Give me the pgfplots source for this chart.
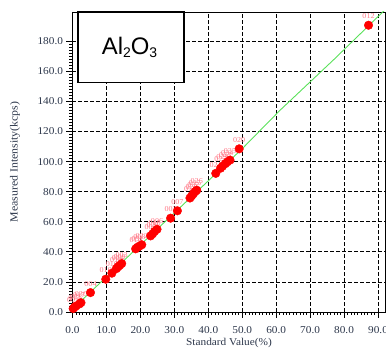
\documentclass[border=0pt]{standalone}
\usepackage{fontspec}
\setmainfont{Liberation Serif}[FakeStretch=1.08]
\newfontfamily\boxfont{Liberation Sans}
\usepackage{pgfplots}
\pgfplotsset{compat=1.18}
\usepackage{pgfplotstable}
\definecolor{tickc}{RGB}{45,55,75}
\definecolor{lblpink}{RGB}{255,120,135}
\definecolor{lgreen}{RGB}{90,225,90}

\pgfplotstableread{
x y lab
0.2 2.3 001
0.6 3.3 013
1.0 3.9 025
2.0 5.3 017
2.5 6.2 030
5.3 12.9 004
9.8 21.8 010
11.6 25.8 016
12.9 28.8 019
13.4 30.0 024
13.9 31.0 009
14.5 32.2 003
18.6 42.0 014
19.1 43.0 031
19.7 43.8 008
20.4 44.7 022
23.0 50.6 005
23.6 52.0 028
24.2 53.6 018
24.9 55.0 006
28.9 62.4 002
30.9 67.3 007
34.6 75.8 011
35.1 77.2 023
35.6 78.6 032
36.1 80.0 015
36.6 81.0 026
42.2 92.2 021
43.6 95.6 027
44.2 97.0 029
45.0 98.6 033
45.6 99.8 034
46.4 101.0 035
49.1 108.5 020
87.2 190.7 012
}\pts

\pgfplotstableread{
x y
0 2.0
10 23.3
20 44.6
30 65.9
40 87.2
50 108.6
61.2 134.3
76.9 167.7
87.2 190.3
93 203
}\fitline

\begin{document}
\begin{tikzpicture}
\begin{axis}[
  name=ax, at={(0,0)}, anchor=south west,
  scale only axis, width=313bp, height=300bp,
  xmin=0, xmax=92.2, ymin=0, ymax=199.5,
  xtick={0,10,...,90}, ytick={0,20,...,180},
  minor x tick num=9, minor y tick num=9,
  tick align=outside,
  major tick length=6bp, minor tick length=3bp,
  xmajorgrids=true, ymajorgrids=true,
  grid style={black, dash pattern=on 3.5bp off 2.5bp, line width=0.7bp},
  major grid style={black, dash pattern=on 3.5bp off 2.5bp, line width=0.7bp},
  axis line style={black, line width=0.9bp},
  every tick/.style={black, line width=0.7bp},
  xtick pos=bottom, ytick pos=left,
  xticklabel shift=5bp,
  xticklabel style={/pgf/number format/.cd, fixed, fixed zerofill, precision=1, assume math mode=true},
  yticklabel style={/pgf/number format/.cd, fixed, fixed zerofill, precision=1, assume math mode=true},
  tick label style={font=\fontsize{10.5}{10.5}\selectfont, text=tickc},
  xlabel={Standard Value(\%)}, ylabel={Measured Intensity(kcps)},
  every axis x label/.style={at={(axis description cs:0.5,-0.1033)}, anchor=center, font=\fontsize{10.5}{10.5}\selectfont, text=tickc},
  every axis y label/.style={at={(axis description cs:-0.1837,0.5)}, rotate=90, anchor=center, font=\fontsize{11}{11}\selectfont, text=tickc},
]
\addplot[lgreen, line width=0.9bp] table {\fitline};
\addplot[only marks, mark=*, mark size=4.3bp, mark options={fill=red, draw=red},
  nodes near coords, point meta=explicit symbolic,
  every node near coord/.style={anchor=south, inner sep=0pt, yshift=6bp, font=\fontsize{7.5}{7.5}\selectfont, text=lblpink}]
  table[x=x, y=y, meta=lab] {\pts};
\end{axis}
\draw[fill=white, line width=1.2bp] ([xshift=5.5bp]ax.north west) rectangle ([xshift=111.5bp, yshift=-70.5bp]ax.north west);
\node[font=\boxfont\fontsize{24}{24}\selectfont, inner sep=0pt] at ([xshift=57bp,yshift=-35.5bp]ax.north west) {Al\raisebox{-0.12em}{\fontsize{14}{14}\selectfont 2}O\raisebox{-0.12em}{\fontsize{14}{14}\selectfont 3}};
\pgfresetboundingbox
\path ([xshift=-72.5bp, yshift=-39bp]ax.south west) rectangle ([xshift=0.5bp, yshift=12bp]ax.north east);
\end{tikzpicture}
\end{document}
